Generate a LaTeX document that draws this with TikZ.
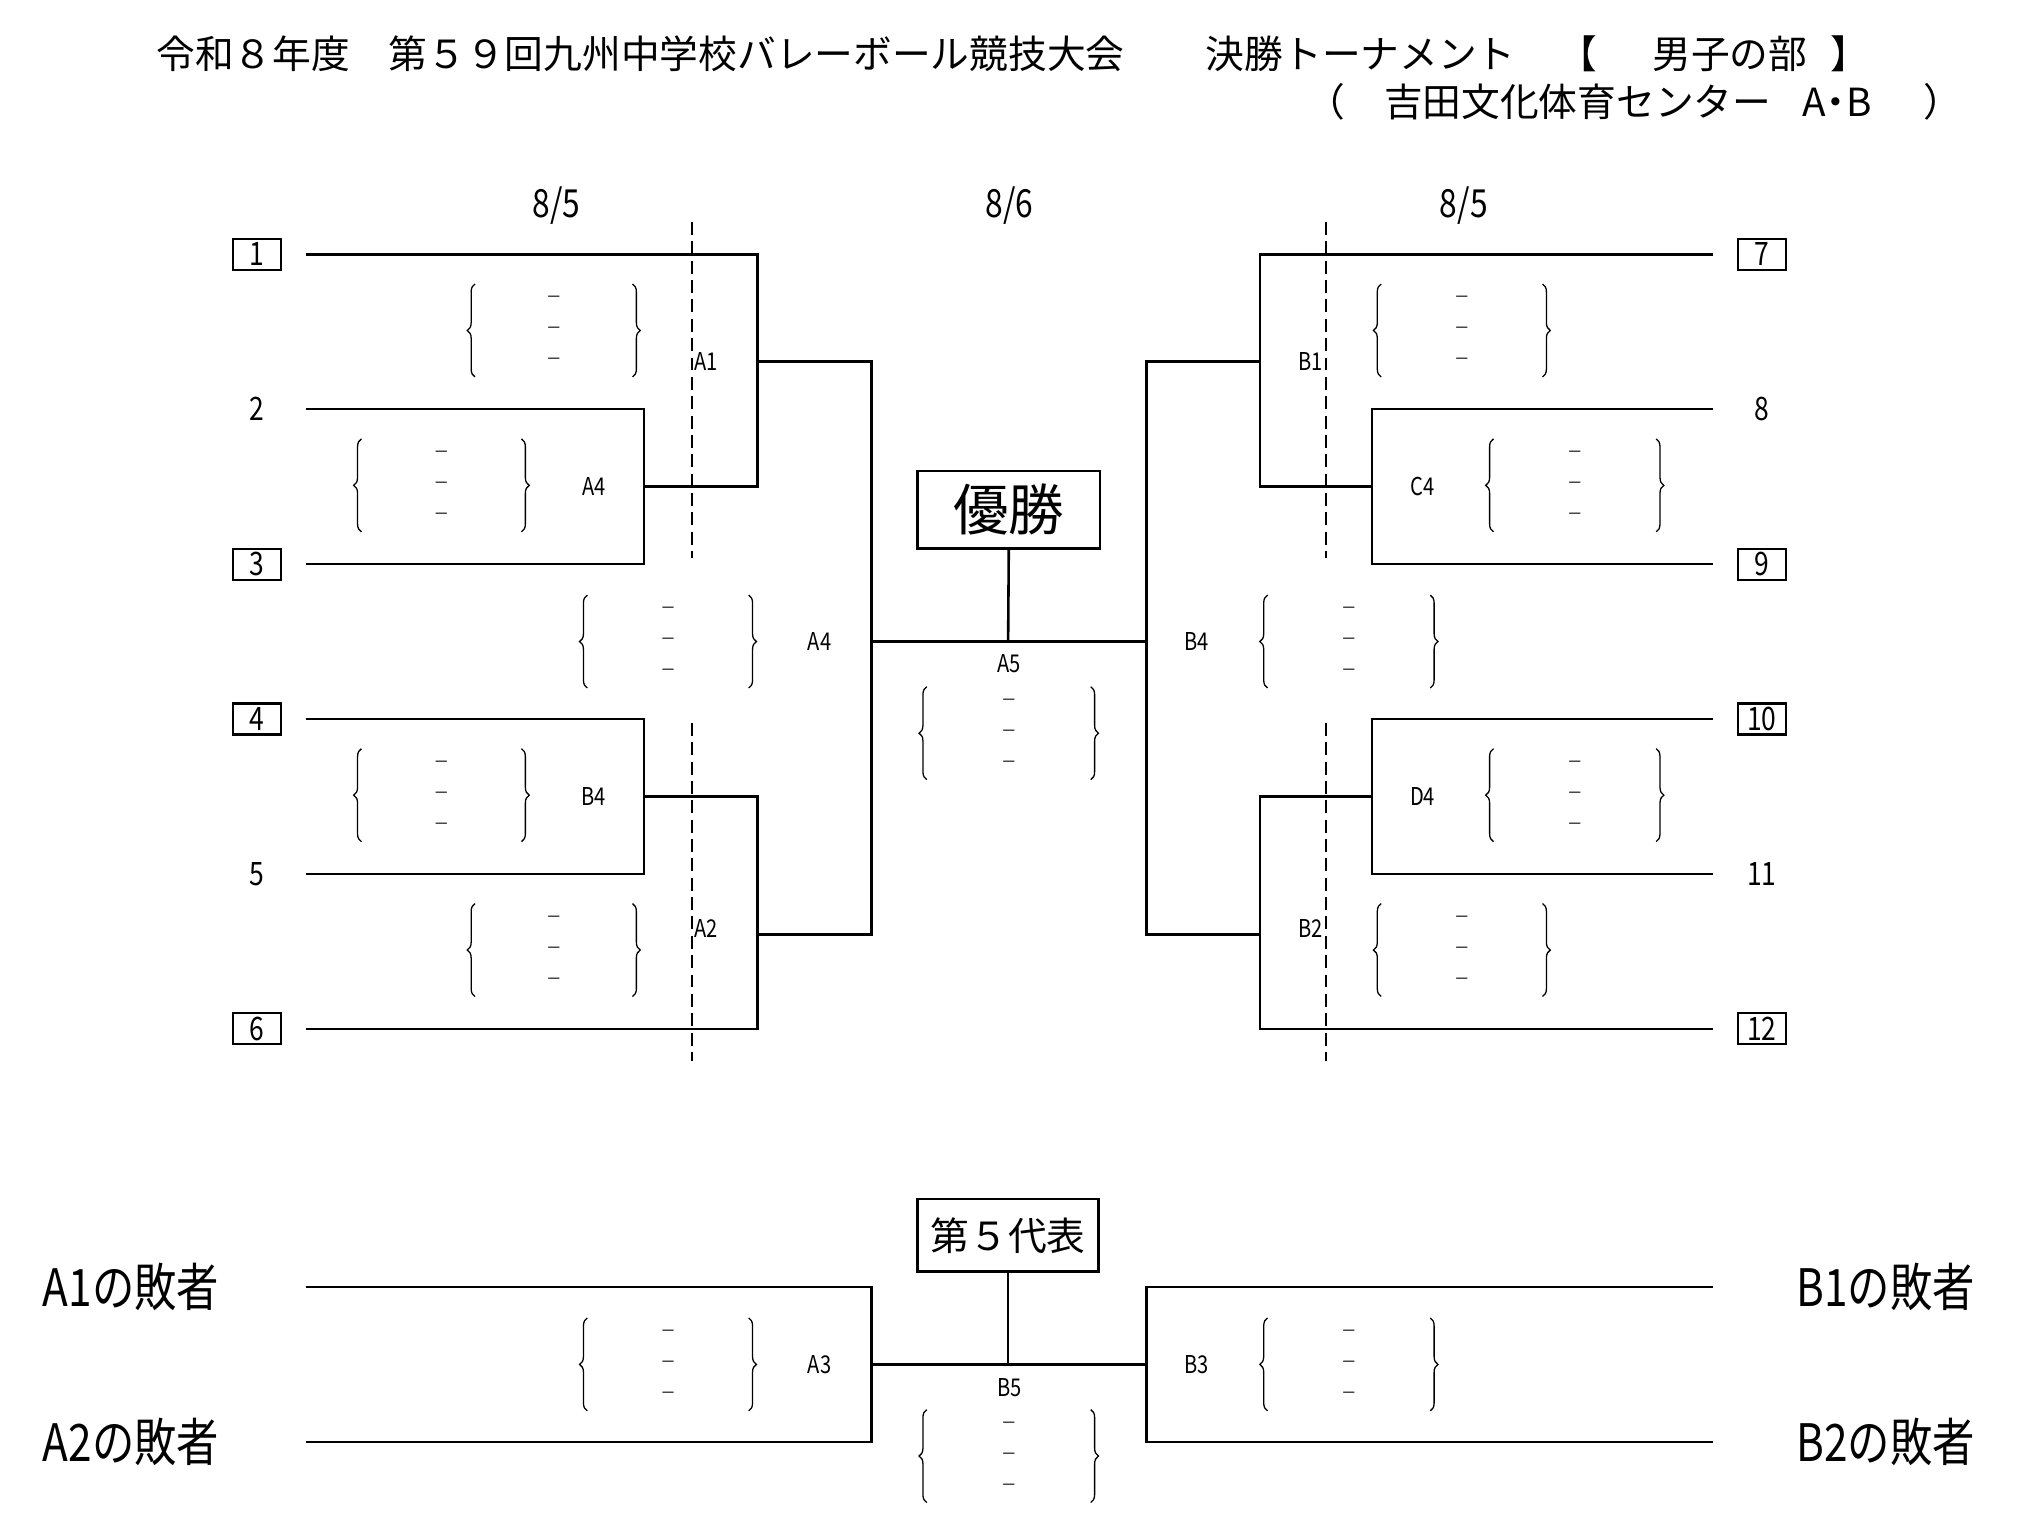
\documentclass[tikz,border=0pt]{standalone}
\usepackage{fontspec}
\newfontfamily\jp{Noto Sans CJK JP}
\newfontfamily\jpc[FakeStretch=0.82]{Noto Sans CJK JP}
\usetikzlibrary{decorations.pathreplacing}
\tikzset{
  wire/.style={line width=2pt},
  divider/.style={line width=1.3pt, dash pattern=on 10pt off 5pt},
  titletxt/.style={font=\jp\fontsize{30}{30}\selectfont, inner sep=0pt},
  datetxt/.style={font=\jpc\fontsize{30}{30}\selectfont, inner sep=0pt},
  numtxt/.style={font=\jpc\fontsize{25}{25}\selectfont, inner sep=0pt},
  numbox/.style={numtxt, draw, line width=1.6pt, minimum width=37pt, minimum height=24pt},
  mlabel/.style={font=\jpc\fontsize{19}{19}\selectfont, inner sep=0pt},
  dashtxt/.style={font=\jp\fontsize{12}{12}\selectfont, inner sep=0pt},
  scorebrace/.style={decorate, decoration={brace, amplitude=6pt}, line width=1pt},
  bigbox/.style={draw, line width=2pt, inner sep=0pt},
  losertxt/.style={font=\jpc\fontsize{40}{40}\selectfont, inner sep=0pt},
}
\newcommand{\scoreset}[4]{%
  \draw[scorebrace] (#2,{#4+36}) -- (#2,{#4-36});
  \draw[scorebrace] (#3,{#4-36}) -- (#3,{#4+36});
  \node[dashtxt] (#1d1) at ({(#2+#3)/2},{#4-24}) {－};
  \node[dashtxt] (#1d2) at ({(#2+#3)/2},{#4}) {－};
  \node[dashtxt] (#1d3) at ({(#2+#3)/2},{#4+24}) {－};
}
\begin{document}
\begin{tikzpicture}[x=1pt,y=-1pt]
\fill[white] (0,0) rectangle (1568,1187);
\useasboundingbox (0,0) rectangle (1568,1187);

% titles
\node[titletxt, anchor=west] (ti1) at (121,42) {令和８年度　第５９回九州中学校バレーボール競技大会};
\node[titletxt, anchor=west] (ti2) at (934,42) {決勝トーナメント};
\node[titletxt, anchor=west] (ti3) at (1207,42) {【\hspace{43pt}男子の部\hspace{18pt}】};
\node[titletxt] (ti4) at (1027,79) {（};
\node[titletxt, anchor=west] (ti5) at (1072,79) {吉田文化体育センター};
\node[titletxt] (ti6) at (1423,79) {A\hspace{-7pt}・\hspace{-7pt}B};
\node[titletxt] (ti7) at (1505,79) {）};

% dates
\node[datetxt] (d1) at (431,159) {8/5};
\node[datetxt] (d2) at (782,159) {8/6};
\node[datetxt] (d3) at (1134,159) {8/5};

% team labels
\node[numbox] (n1) at (199,197) {1};
\node[numtxt] (n2) at (199,317) {2};
\node[numbox] (n3) at (199,437) {3};
\node[numbox] (n4) at (199,557) {4};
\node[numtxt] (n5) at (199,677) {5};
\node[numbox] (n6) at (199,797) {6};
\node[numbox] (n7) at (1365,197) {7};
\node[numtxt] (n8) at (1365,317) {8};
\node[numbox] (n9) at (1365,437) {9};
\node[numbox] (n10) at (1365,557) {10};
\node[numtxt] (n11) at (1365,677) {11};
\node[numbox] (n12) at (1365,797) {12};

% line ends
\coordinate (t1) at (237,197);
\coordinate (t2) at (237,317);
\coordinate (t3) at (237,437);
\coordinate (t4) at (237,557);
\coordinate (t5) at (237,677);
\coordinate (t6) at (237,797);
\coordinate (t7) at (1327,197);
\coordinate (t8) at (1327,317);
\coordinate (t9) at (1327,437);
\coordinate (t10) at (1327,557);
\coordinate (t11) at (1327,677);
\coordinate (t12) at (1327,797);

% junctions
\coordinate (jA4) at (499,377);
\coordinate (jA1) at (587,280);
\coordinate (jB4) at (499,617);
\coordinate (jA2) at (587,724);
\coordinate (jA4s) at (675,497);
\coordinate (jC4) at (1063,377);
\coordinate (jB1) at (976,280);
\coordinate (jD4) at (1063,617);
\coordinate (jB2) at (976,724);
\coordinate (jB4s) at (888,497);
\coordinate (jA5) at (781,497);

% left bracket
\draw[wire] (t2) -| (jA4) |- (t3);
\draw[wire] (t1) -| (jA1) |- (jA4);
\draw[wire] (t4) -| (jB4) |- (t5);
\draw[wire] (jB4) -| (jA2) |- (t6);
\draw[wire] (jA1) -| (jA4s) |- (jA2);
% right bracket
\draw[wire] (t8) -| (jC4) |- (t9);
\draw[wire] (t7) -| (jB1) |- (jC4);
\draw[wire] (t10) -| (jD4) |- (t11);
\draw[wire] (jD4) -| (jB2) |- (t12);
\draw[wire] (jB1) -| (jB4s) |- (jB2);
% final
\draw[wire] (jA4s) -- (jB4s);
\node[bigbox, minimum width=141pt, minimum height=60pt, font=\jp\fontsize{43}{43}\selectfont] (win) at (781.5,395) {優勝};
\draw[wire] (win.south) -- (jA5);

% dividers
\draw[divider] (536,172) -- (536,432);
\draw[divider] (536,560) -- (536,822);
\draw[divider] (1027,172) -- (1027,432);
\draw[divider] (1027,560) -- (1027,822);

% match labels
\node[mlabel] (lA1) at (547,280) {A1};
\node[mlabel] (lA4) at (460,377) {A4};
\node[mlabel] (lA4s) at (635,497) {A4};
\node[mlabel] (lB4) at (460,617) {B4};
\node[mlabel] (lA2) at (547,719) {A2};
\node[mlabel] (lA5) at (782,514) {A5};
\node[mlabel] (lB1) at (1015,280) {B1};
\node[mlabel] (lC4) at (1102,377) {C4};
\node[mlabel] (lB4s) at (927,497) {B4};
\node[mlabel] (lD4) at (1102,617) {D4};
\node[mlabel] (lB2) at (1015,719) {B2};

% scores
\scoreset{sA1}{368}{490}{256}
\scoreset{sA4}{280}{404}{376}
\scoreset{sA4s}{455}{580}{497}
\scoreset{sB4}{280}{404}{616}
\scoreset{sA2}{368}{490}{736}
\scoreset{sA5}{718}{845}{568}
\scoreset{sB1}{1070}{1195}{256}
\scoreset{sC4}{1157}{1283}{376}
\scoreset{sB4s}{982}{1108}{497}
\scoreset{sD4}{1157}{1283}{616}
\scoreset{sB2}{1070}{1195}{736}

% fifth place section
\node[losertxt, anchor=west] (la1) at (33,997) {A1の敗者};
\node[losertxt, anchor=west] (la2) at (33,1117) {A2の敗者};
\node[losertxt, anchor=east] (lb1) at (1530,997) {B1の敗者};
\node[losertxt, anchor=east] (lb2) at (1530,1117) {B2の敗者};
\coordinate (l1) at (237,997);
\coordinate (l2) at (237,1117);
\coordinate (r1) at (1327,997);
\coordinate (r2) at (1327,1117);
\coordinate (jA3) at (675,1057);
\coordinate (jB3) at (888,1057);
\coordinate (jB5) at (781,1057);
\draw[wire] (l1) -| (jA3) |- (l2);
\draw[wire] (r1) -| (jB3) |- (r2);
\draw[wire] (jA3) -- (jB3);
\node[bigbox, minimum width=140pt, minimum height=56pt, font=\jp\fontsize{30}{30}\selectfont] (rep) at (781,957) {第５代表};
\draw[wire] (rep.south) -- (jB5);
\node[mlabel] (lA3) at (635,1057) {A3};
\node[mlabel] (lB5) at (782,1075) {B5};
\node[mlabel] (lB3) at (927,1057) {B3};
\scoreset{sA3}{455}{580}{1057}
\scoreset{sB5}{718}{845}{1128}
\scoreset{sB3}{982}{1108}{1057}
\end{tikzpicture}
\end{document}
